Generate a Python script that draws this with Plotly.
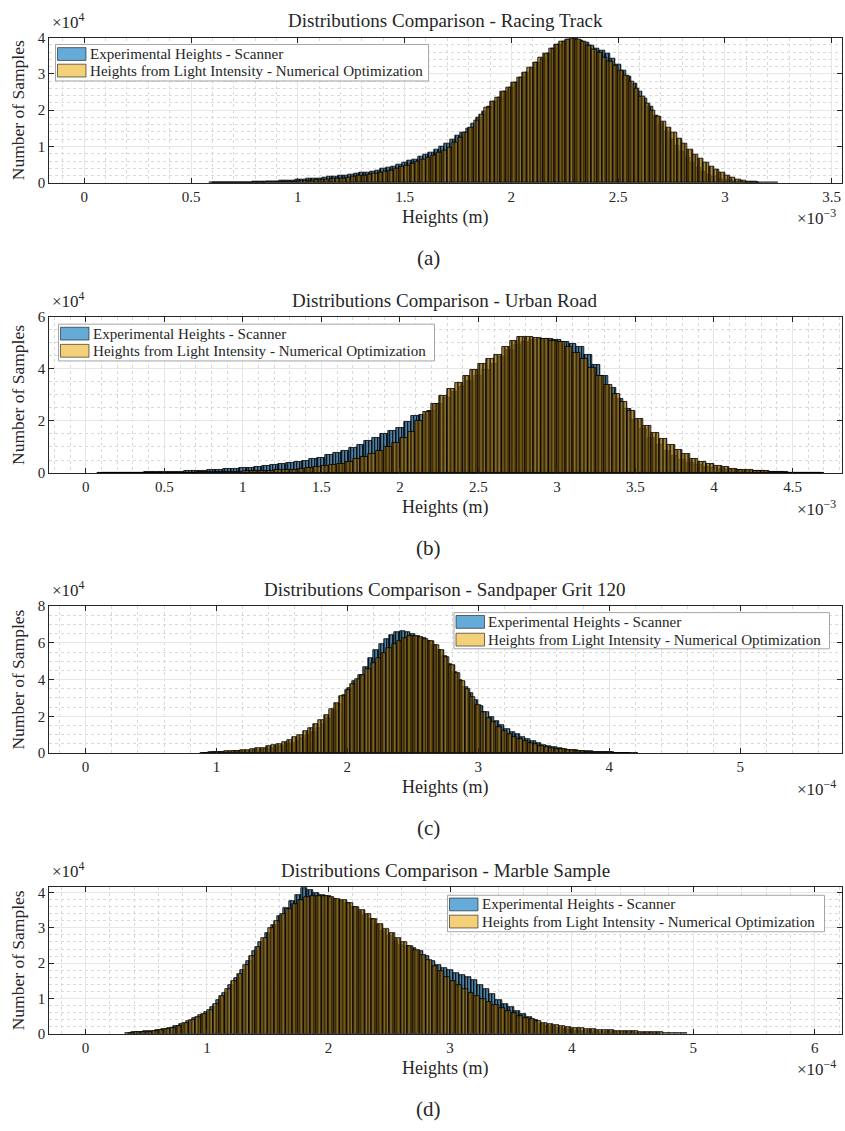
import numpy as np
import plotly.graph_objects as go

W, H = 845, 1131
FONT = "Liberation Serif"
INK = "#262626"

# ---------------- data (counts in thousands of samples) ----------------
PANEL_TITLES = [
    "Distributions Comparison - Racing Track",
    "Distributions Comparison - Urban Road",
    "Distributions Comparison - Sandpaper Grit 120",
    "Distributions Comparison - Marble Sample",
]
PANEL_TAGS = ["(a)", "(b)", "(c)", "(d)"]
SERIES_NAMES = ["Experimental Heights - Scanner",
                "Heights from Light Intensity - Numerical Optimization"]

# (a) Racing Track, heights in 1e-3 m, bin width 0.025
SCANNER_A_START, LIGHT_A_START, A_BIN = 0.600, 0.6125, 0.025
SCANNER_A = [
    0.0, 0.05, 0.05, 0.08, 0.1, 0.12, 0.15, 0.18, 0.2, 0.25,
    0.3, 0.35, 0.4, 0.5, 0.6, 0.7, 0.8, 0.9, 1.05, 1.2,
    1.3, 1.45, 1.6, 1.75, 1.9, 2.1, 2.3, 2.5, 2.7, 2.95,
    3.2, 3.5, 3.8, 4.2, 4.6, 5.0, 5.5, 6.0, 6.5, 7.1,
    7.7, 8.4, 9.1, 9.9, 10.7, 11.8, 12.9, 13.8, 14.8, 16.4,
    18.0, 19.5, 21.0, 22.3, 23.6, 25.0, 26.3, 27.6, 29.0, 30.3,
    31.6, 33.0, 34.3, 35.7, 37.0, 38.1, 39.0, 39.5, 39.8, 39.3,
    38.7, 37.8, 37.0, 36.4, 35.7, 34.2, 32.5, 30.9, 29.3, 27.3,
    25.2, 23.2, 21.1, 18.5, 16.0, 14.0, 12.0, 10.2, 8.5, 7.0,
    5.5, 4.3, 3.2, 2.4, 1.7, 1.2, 0.8, 0.5, 0.3, 0.2,
    0.1, 0.05, 0.02,
]
LIGHT_A = [
    0.0, 0.02, 0.03, 0.04, 0.05, 0.06, 0.08, 0.09, 0.11, 0.15,
    0.2, 0.25, 0.3, 0.35, 0.4, 0.47, 0.52, 0.6, 0.68, 0.76,
    0.85, 0.95, 1.05, 1.15, 1.3, 1.5, 1.7, 1.9, 2.1, 2.35,
    2.6, 2.85, 3.15, 3.5, 3.9, 4.35, 4.8, 5.3, 5.8, 6.3,
    6.9, 7.5, 8.2, 8.9, 9.8, 11.1, 12.4, 13.7, 15.2, 17.1,
    18.9, 20.7, 22.3, 23.6, 25.0, 26.3, 27.7, 29.1, 30.4, 31.8,
    33.1, 34.4, 35.6, 36.9, 38.0, 38.9, 39.5, 39.8, 39.4, 38.8,
    37.9, 36.8, 35.8, 34.6, 33.4, 32.2, 30.9, 29.6, 28.0, 25.9,
    23.8, 21.7, 19.9, 18.3, 16.8, 15.2, 13.7, 12.2, 10.7, 9.2,
    7.8, 6.6, 5.5, 4.5, 3.6, 2.7, 2.0, 1.5, 1.0, 0.7,
    0.45, 0.3, 0.18, 0.1, 0.05, 0.02,
]

# (b) Urban Road, heights in 1e-3 m, bin width 0.05
SCANNER_B_START, LIGHT_B_START, B_BIN = 0.10, 0.125, 0.05
SCANNER_B = [
    0.1, 0.1, 0.15, 0.15, 0.2, 0.25, 0.3, 0.35, 0.45, 0.5,
    0.6, 0.7, 0.8, 1.0, 1.2, 1.35, 1.5, 1.7, 1.9, 2.1,
    2.4, 2.7, 3.0, 3.4, 3.8, 4.3, 4.8, 5.4, 6.0, 6.8,
    7.7, 8.7, 9.8, 11.0, 12.3, 13.6, 14.9, 16.1, 17.5, 19.5,
    21.8, 22.5, 24.0, 26.4, 28.7, 31.0, 33.2, 35.3, 37.2, 39.6,
    42.0, 44.6, 47.2, 49.3, 50.5, 51.2, 51.5, 51.6, 51.2, 50.5,
    49.8, 48.5, 45.5, 41.7, 37.5, 32.8, 28.5, 24.5, 20.6, 17.0,
    13.7, 11.0, 8.6, 6.6, 5.0, 3.8, 3.0, 2.4, 1.9, 1.6,
    1.3, 1.1, 1.0, 0.9, 0.7, 0.5, 0.4, 0.3, 0.2, 0.15,
    0.1, 0.05,
]
LIGHT_B = [
    0.02, 0.03, 0.04, 0.05, 0.06, 0.08, 0.1, 0.12, 0.14, 0.17,
    0.2, 0.25, 0.3, 0.35, 0.4, 0.45, 0.5, 0.55, 0.65, 0.75,
    0.85, 0.95, 1.05, 1.2, 1.4, 1.7, 2.0, 2.3, 2.6, 3.1,
    3.7, 4.3, 5.3, 6.3, 7.3, 8.5, 10.0, 11.7, 13.5, 16.0,
    20.0, 23.5, 26.5, 29.5, 32.2, 34.8, 37.2, 39.6, 41.8, 43.8,
    45.5, 48.5, 50.8, 52.2, 52.5, 52.0, 51.4, 50.8, 50.3, 48.4,
    46.2, 43.8, 40.5, 37.4, 34.0, 30.5, 27.2, 24.0, 21.0, 18.2,
    15.5, 13.2, 11.0, 9.0, 7.3, 5.6, 4.4, 3.5, 2.8, 2.2,
    1.7, 1.3, 1.1, 0.9, 0.7, 0.5, 0.35, 0.25, 0.15, 0.1,
    0.05, 0.02,
]

# (c) Sandpaper Grit 120, heights in 1e-4 m, bin width 0.04
SCANNER_C_START, LIGHT_C_START, C_BIN = 0.90, 0.92, 0.04
SCANNER_C = [
    0.1, 0.2, 0.4, 0.5, 0.6, 0.7, 0.8, 0.9, 1.0, 1.2,
    1.4, 1.7, 2.1, 2.6, 3.2, 3.9, 4.7, 5.6, 6.7, 8.3,
    9.9, 11.6, 13.5, 15.7, 18.9, 22.6, 26.8, 31.3, 35.5, 39.2,
    42.5, 46.7, 51.6, 56.0, 59.2, 62.0, 64.4, 65.9, 66.4, 66.0,
    64.9, 63.8, 62.5, 60.9, 58.8, 55.9, 52.5, 48.5, 44.0, 39.8,
    36.0, 32.7, 29.0, 25.6, 22.5, 19.6, 17.2, 15.0, 13.1, 11.6,
    10.2, 8.9, 7.7, 6.5, 5.3, 4.4, 3.6, 3.0, 2.5, 2.1,
    1.8, 1.5, 1.2, 1.0, 0.8, 0.6, 0.5, 0.4, 0.3, 0.2,
    0.1, 0.05,
]
LIGHT_C = [
    0.1, 0.3, 0.5, 0.6, 0.8, 1.0, 1.2, 1.4, 1.7, 2.0,
    2.4, 2.9, 3.5, 4.2, 5.1, 6.1, 7.2, 8.5, 10.0, 11.8,
    13.6, 15.6, 18.1, 20.8, 23.9, 27.4, 30.9, 34.2, 37.6, 40.3,
    42.6, 45.6, 48.8, 51.6, 54.2, 56.9, 59.2, 61.2, 62.5, 63.4,
    63.6, 63.1, 62.3, 61.0, 58.5, 55.8, 52.0, 47.8, 43.5, 39.0,
    34.8, 30.5, 26.0, 22.5, 19.2, 16.6, 14.3, 12.1, 10.4, 8.8,
    7.5, 6.4, 5.4, 4.6, 3.9, 3.2, 2.7, 2.3, 1.9, 1.6,
    1.35, 1.1, 0.9, 0.75, 0.6, 0.5, 0.4, 0.3, 0.2, 0.15,
    0.1, 0.06, 0.03,
]

# (d) Marble Sample, heights in 1e-4 m, bin width 0.05
SCANNER_D_START, LIGHT_D_START, D_BIN = 0.35, 0.375, 0.05
SCANNER_D = [
    0.2, 0.4, 0.5, 0.6, 0.7, 0.9, 1.2, 1.5, 2.0, 2.8,
    3.5, 4.3, 5.2, 6.2, 7.6, 9.5, 11.5, 13.7, 15.8, 18.0,
    20.7, 23.3, 25.9, 28.5, 30.8, 33.3, 35.6, 37.5, 39.3, 41.4,
    40.8, 40.0, 39.3, 38.9, 38.3, 37.7, 37.0, 35.8, 34.6, 33.5,
    32.4, 30.8, 29.0, 27.6, 26.2, 25.2, 24.7, 24.4, 23.3, 22.0,
    20.6, 19.5, 18.6, 17.9, 17.3, 16.7, 16.0, 15.2, 13.8, 12.6,
    11.2, 9.6, 8.5, 7.4, 6.4, 5.5, 4.6, 3.7, 2.8, 2.2,
    1.8, 1.5, 1.2, 0.9, 0.8, 0.7, 0.6, 0.5, 0.5, 0.4,
    0.4, 0.3, 0.3, 0.3, 0.2, 0.2, 0.1, 0.1,
]
LIGHT_D = [
    0.2, 0.3, 0.4, 0.5, 0.7, 0.9, 1.2, 1.6, 2.2, 3.0,
    3.8, 4.6, 5.6, 6.8, 8.5, 10.5, 12.6, 14.8, 17.0, 19.5,
    22.0, 24.6, 27.2, 29.8, 31.8, 33.8, 35.3, 36.7, 38.0, 38.6,
    39.0, 39.1, 39.0, 38.7, 38.3, 37.9, 37.0, 36.0, 35.0, 33.8,
    32.4, 31.0, 29.6, 28.4, 27.2, 26.0, 24.8, 23.8, 22.4, 20.8,
    19.2, 17.6, 16.0, 14.8, 13.7, 12.6, 11.6, 10.7, 9.8, 8.9,
    8.0, 7.3, 6.5, 5.8, 5.1, 4.5, 4.0, 3.5, 3.1, 2.7,
    2.4, 2.1, 1.9, 1.7, 1.5, 1.3, 1.2, 1.1, 1.0, 0.9,
    0.8, 0.7, 0.6, 0.6, 0.5, 0.4, 0.3, 0.3, 0.2, 0.2,
    0.1, 0.1,
]

# x tick values (in the panel's 10^k unit) and their labels
XTICKS_A = [0, 0.5, 1, 1.5, 2, 2.5, 3, 3.5]
XTICKS_B = [0, 0.5, 1, 1.5, 2, 2.5, 3, 3.5, 4, 4.5]
XTICKS_C = [0, 1, 2, 3, 4, 5]
XTICKS_D = [0, 1, 2, 3, 4, 5, 6]
YTICKS_A = [0, 1, 2, 3, 4]
YTICKS_B = [0, 2, 4, 6]
YTICKS_C = [0, 2, 4, 6, 8]
YTICKS_D = [0, 1, 2, 3, 4]

# ---------------- layout geometry (pixels) ----------------
panels = [
    dict(scan=SCANNER_A, s0=SCANNER_A_START, light=LIGHT_A, l0=LIGHT_A_START, bw=A_BIN,
         unit=1e-3, exp="-3", xr=(-0.1639, 3.5457), yr=(0, 4.0), xt=XTICKS_A, yt=YTICKS_A,
         xminor=0.1, yminor=0.2, top=30, bot=177.3, leg=(55.5, 428.6, 37, 74), leg_rows=(46.7, 63.5)),
    dict(scan=SCANNER_B, s0=SCANNER_B_START, light=LIGHT_B, l0=LIGHT_B_START, bw=B_BIN,
         unit=1e-3, exp="-3", xr=(-0.233, 4.812), yr=(0, 6.0), xt=XTICKS_B, yt=YTICKS_B,
         xminor=0.1, yminor=0.5, top=313.3, bot=471.7, leg=(58.5, 434.5, 320.7, 358), leg_rows=(330.3, 347.7)),
    dict(scan=SCANNER_C, s0=SCANNER_C_START, light=LIGHT_C, l0=LIGHT_C_START, bw=C_BIN,
         unit=1e-4, exp="-4", xr=(-0.277, 5.774), yr=(0, 8.0), xt=XTICKS_C, yt=YTICKS_C,
         xminor=0.2, yminor=0.5, top=606.7, bot=755.7, leg=(454, 829.5, 613.3, 650), leg_rows=(622.7, 640.7)),
    dict(scan=SCANNER_D, s0=SCANNER_D_START, light=LIGHT_D, l0=LIGHT_D_START, bw=D_BIN,
         unit=1e-4, exp="-4", xr=(-0.298, 6.22), yr=(0, 4.157), xt=XTICKS_D, yt=YTICKS_D,
         xminor=0.2, yminor=0.2, top=891.7, bot=1040.3, leg=(447.5, 824.5, 900, 937), leg_rows=(909.3, 926.7)),
]
X_LEFT, X_RIGHT = 49.2, 841.5

BLUE_FILL = "rgba(0,114,189,0.6)"
GOLD_FILL = "rgba(237,177,32,0.6)"
EDGE = "black"
EDGE_W = 0.8
# fine vertical hatching standing in for the dense bin edges of the histograms
HATCH = {
    BLUE_FILL: dict(size=3.0, solidity=0.5, fgcolor="black"),
    GOLD_FILL: dict(size=3.6, solidity=0.7, fgcolor="rgb(64,45,8)"),
}


def px(x):
    return x / W


def py(y):
    return 1 - y / H


fig = go.Figure()
annotations, shapes = [], []
layout = {}


def note(text, x, y, size, **kw):
    d = dict(text=text, x=px(x), y=py(y), xref="paper", yref="paper", showarrow=False,
             font=dict(family=FONT, size=size, color=INK), xanchor="center", yanchor="middle")
    d.update(kw)
    annotations.append(d)


for i, p in enumerate(panels):
    k = "" if i == 0 else str(i + 1)
    xa, ya = "x" + k, "y" + k
    u = p["unit"]

    for vals, start, fill in ((p["scan"], p["s0"], BLUE_FILL), (p["light"], p["l0"], GOLD_FILL)):
        centers = (start + p["bw"] * np.arange(len(vals))) * u
        counts = np.array(vals) * 1e3
        fig.add_trace(go.Bar(
            x=centers, y=counts, width=p["bw"] * u, xaxis=xa, yaxis=ya,
            marker=dict(
                color=fill, line=dict(color=EDGE, width=EDGE_W),
                pattern=dict(shape="|", fillmode="overlay", bgcolor=fill, fgopacity=1,
                             **HATCH[fill]),
            ),
            showlegend=False, hoverinfo="skip",
        ))

    axis_common = dict(
        showline=True, linecolor=INK, linewidth=1, mirror="ticks",
        ticks="inside", ticklen=5, tickcolor=INK, tickwidth=0.8,
        showgrid=True, gridcolor="#e6e6e6", gridwidth=0.8,
        tickfont=dict(family=FONT, size=15, color=INK), zeroline=False,
    )
    layout["xaxis" + k] = dict(
        axis_common, domain=[px(X_LEFT), px(X_RIGHT)], anchor=ya,
        range=[p["xr"][0] * u, p["xr"][1] * u],
        tickvals=[t * u for t in p["xt"]], ticktext=[f"{t:g}" for t in p["xt"]],
        minor=dict(dtick=p["xminor"] * u, tick0=0, showgrid=True, gridcolor="#d9d9d9",
                   griddash="dot", gridwidth=0.5, ticks=""),
    )
    layout["yaxis" + k] = dict(
        axis_common, domain=[py(p["bot"]), py(p["top"])], anchor=xa,
        range=[p["yr"][0] * 1e4, p["yr"][1] * 1e4],
        tickvals=[t * 1e4 for t in p["yt"]], ticktext=[f"{t:g}" for t in p["yt"]],
        minor=dict(dtick=p["yminor"] * 1e4, tick0=0, showgrid=True, gridcolor="#d9d9d9",
                   griddash="dot", gridwidth=0.5, ticks=""),
    )

    top, bot = p["top"], p["bot"]
    cx = (X_LEFT + X_RIGHT) / 2
    note(PANEL_TITLES[i], cx, top - 17, 19)
    note("×10<sup>4</sup>", 50, top - 17, 17, xanchor="left")
    note("Number of Samples", 18, (top + bot) / 2, 17.5, textangle=-90)
    note("Heights (m)", cx, bot + 35, 18)
    note(f"×10<sup>{p['exp'].replace('-', '−')}</sup>", 838, bot + 35, 17, xanchor="right")
    note(PANEL_TAGS[i], 428, bot + 76, 21)

    # legend box with colour swatches
    x0, x1, y0, y1 = p["leg"]
    shapes.append(dict(type="rect", xref="paper", yref="paper", x0=px(x0), x1=px(x1),
                       y0=py(y1), y1=py(y0), fillcolor="white",
                       line=dict(color="#a6a6a6", width=1), layer="above"))
    for r, (name, fill) in enumerate(zip(SERIES_NAMES, (BLUE_FILL, GOLD_FILL))):
        ry = p["leg_rows"][r]
        shapes.append(dict(type="rect", xref="paper", yref="paper",
                           x0=px(x0 + 2), x1=px(x0 + 30.5), y0=py(ry + 6.5), y1=py(ry - 6.5),
                           fillcolor=fill, line=dict(color="rgba(0,0,0,0.55)", width=1),
                           layer="above"))
        note(name, x0 + 32, ry, 15.1, xanchor="left")

fig.update_layout(
    width=W, height=H, margin=dict(l=0, r=0, t=0, b=0),
    paper_bgcolor="white", plot_bgcolor="white",
    barmode="overlay", bargap=0, showlegend=False,
    annotations=annotations, shapes=shapes,
    **layout,
)

fig.write_html("out.html")
